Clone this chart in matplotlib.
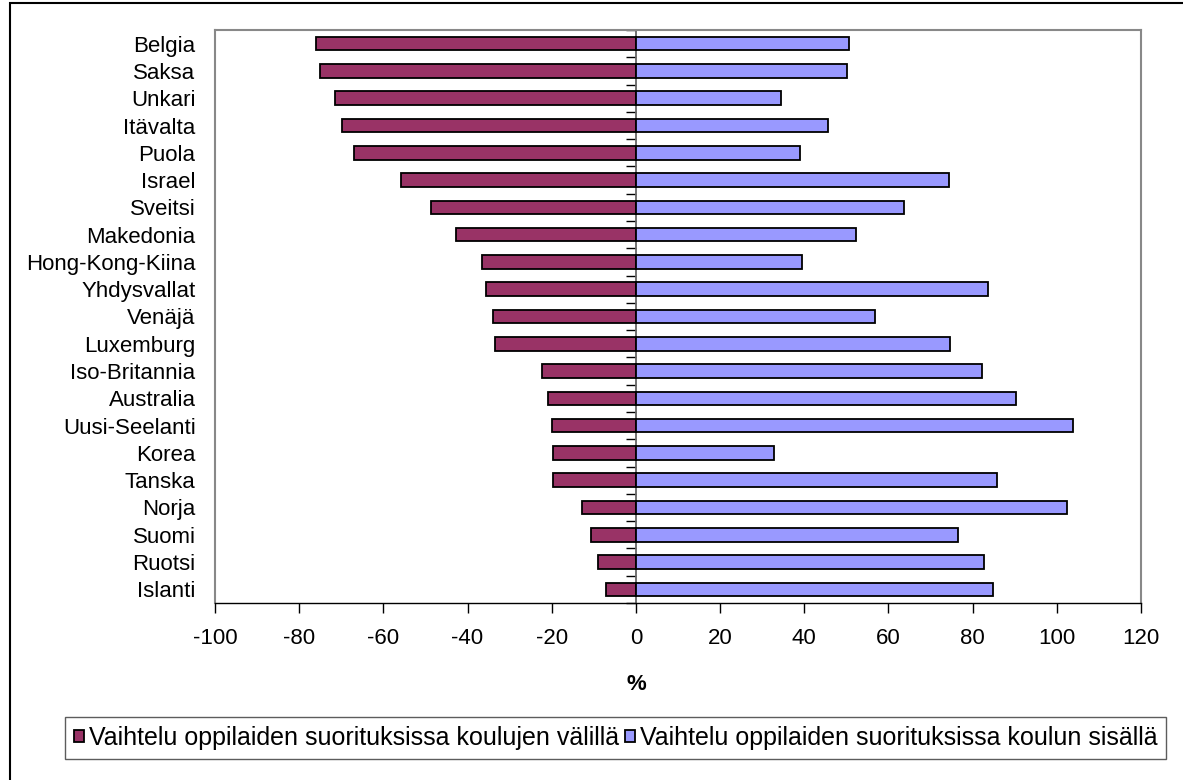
import numpy as np
import matplotlib.pyplot as plt
from matplotlib.patches import Rectangle, Patch

plt.rcParams['font.family'] = ['Liberation Sans', 'DejaVu Sans']

# Countries, top to bottom as in the chart
maat = ['Belgia', 'Saksa', 'Unkari', 'Itävalta', 'Puola', 'Israel', 'Sveitsi',
        'Makedonia', 'Hong-Kong-Kiina', 'Yhdysvallat', 'Venäjä', 'Luxemburg',
        'Iso-Britannia', 'Australia', 'Uusi-Seelanti', 'Korea', 'Tanska',
        'Norja', 'Suomi', 'Ruotsi', 'Islanti']

# Variation between schools (drawn to the left, negative)
valilla = [-75.9, -75.1, -71.4, -69.8, -67.0, -55.8, -48.6,
           -42.8, -36.6, -35.7, -34.0, -33.5,
           -22.3, -21.0, -20.0, -19.6, -19.6,
           -12.9, -10.7, -8.9, -7.1]

# Variation within schools (drawn to the right)
sisalla = [50.6, 50.1, 34.4, 45.6, 39.0, 74.3, 63.6,
           52.3, 39.4, 83.6, 56.8, 74.7,
           82.3, 90.3, 103.8, 32.7, 85.8,
           102.5, 76.5, 82.7, 84.9]

lab_valilla = 'Vaihtelu oppilaiden suorituksissa koulujen välillä'
lab_sisalla = 'Vaihtelu oppilaiden suorituksissa koulun sisällä'
xticks = np.arange(-100, 121, 20)

c_val = '#993366'
c_sis = '#9999FF'
fs = 16

fig = plt.figure(figsize=(11.83, 7.80), dpi=100)
ax = fig.add_axes([215 / 1183, 1 - 603 / 780, 926 / 1183, 573 / 780])

y = np.arange(len(maat))
ax.barh(y, valilla, height=0.5, color=c_val, edgecolor='black', lw=1.3)
ax.barh(y, sisalla, height=0.5, color=c_sis, edgecolor='black', lw=1.3)

ax.set_xlim(-100, 120)
ax.set_ylim(len(maat) - 0.5, -0.5)
ax.set_xticks(xticks)
ax.set_xticklabels([str(v) for v in xticks], fontsize=fs)
ax.tick_params(axis='x', direction='out', length=7, width=1, pad=11)

ax.set_yticks(y)
ax.set_yticklabels(maat, fontsize=fs)
ax.tick_params(axis='y', length=0, pad=14)

for s in ['top', 'left', 'right']:
    ax.spines[s].set_color('#888888')
    ax.spines[s].set_linewidth(1.5)
ax.spines['bottom'].set_color('black')
ax.spines['bottom'].set_linewidth(1)

# zero axis with category separator ticks
zero_frac = (0 - xticks[0]) / (xticks[-1] - xticks[0])
sec = ax.secondary_yaxis(zero_frac)
sec.set_yticks(np.arange(-0.5, len(maat), 1))
sec.set_yticklabels([])
sec.tick_params(length=7, width=1, color='black')
sec.spines['left'].set_color('#666666')
sec.spines['left'].set_linewidth(1.3)

ax.text(0, -0.142, '%', transform=ax.get_xaxis_transform(), ha='center',
        va='center', fontsize=fs, fontweight='bold')

handles = [Patch(facecolor=c_val, edgecolor='black', lw=1.3),
           Patch(facecolor=c_sis, edgecolor='black', lw=1.3)]
leg = fig.legend(handles, [lab_valilla, lab_sisalla], ncol=2,
                 loc='center', bbox_to_anchor=(0.5203, 1 - 738 / 780),
                 fontsize=18, frameon=True, fancybox=False,
                 handlelength=0.4, handleheight=0.4, handletextpad=0.2,
                 columnspacing=0.25, borderpad=0.35, borderaxespad=0)
leg.get_frame().set_edgecolor('#333333')
leg.get_frame().set_linewidth(1)

# outer chart border
fig.patches.append(Rectangle((10 / 1183, -0.05), 1.1, 1.05 - 3 / 780,
                             transform=fig.transFigure, fill=False,
                             edgecolor='black', lw=1.5))

fig.savefig('out.png', dpi=100)
